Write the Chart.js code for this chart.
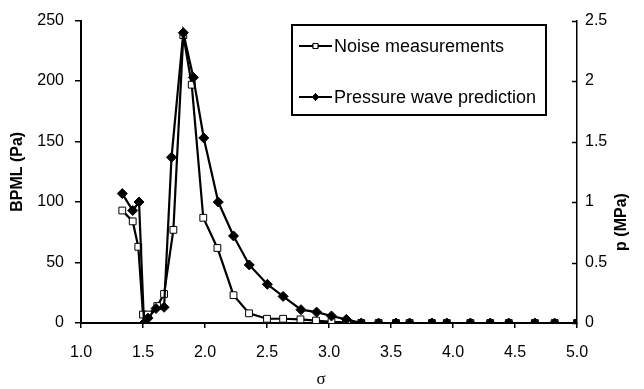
<!DOCTYPE html>
<html>
<head>
<meta charset="utf-8">
<script src="https://cdn.jsdelivr.net/npm/chart.js@4.4.1/dist/chart.umd.min.js"></script>
<style>
  html, body { margin: 0; padding: 0; background: #fff; }
  #wrap { width: 644px; height: 389px; }
</style>
</head>
<body>
<div id="wrap"><canvas id="chart"></canvas></div>
<script>
// Noise measurements (left axis, Pa)
const sigmaNoise = [1.333, 1.417, 1.462, 1.50, 1.54, 1.615, 1.67, 1.745, 1.825, 1.893, 1.986, 2.10, 2.23, 2.355, 2.50, 2.63, 2.77, 2.895, 3.02, 3.145, 3.26, 3.40, 3.54, 3.65, 3.83, 3.95, 4.14, 4.30, 4.45, 4.66, 4.82, 5.0];
const bpml = [93, 84, 63, 7, 7, 14, 24, 77, 238, 197, 87, 62, 23, 8, 3.5, 3.5, 3, 2, 1, 0.5, 0, 0, 0, 0, 0, 0, 0, 0, 0, 0, 0, 0];

// Pressure wave prediction (right axis, MPa)
const sigmaPressure = [1.333, 1.417, 1.468, 1.508, 1.54, 1.605, 1.67, 1.73, 1.825, 1.906, 1.99, 2.107, 2.23, 2.357, 2.503, 2.63, 2.774, 2.9, 3.02, 3.14, 3.26, 3.40, 3.54, 3.65, 3.83, 3.95, 4.14, 4.30, 4.45, 4.66, 4.82, 5.0];
const pressure = [1.07, 0.93, 1.0, 0, 0.04, 0.12, 0.13, 1.37, 2.40, 2.03, 1.53, 1.0, 0.72, 0.48, 0.32, 0.22, 0.11, 0.09, 0.058, 0.03, 0, 0, 0, 0, 0, 0, 0, 0, 0, 0, 0, 0];

const legendLabels = ["Noise measurements", "Pressure wave prediction"];
const xTitle = "σ";
const yTitle = "BPML (Pa)";
const y2Title = "p (MPa)";

const FONT = "'Liberation Sans', Arial, sans-serif";

function toPoints(xs, ys) {
  return xs.map((x, i) => ({ x: x, y: ys[i] }));
}

// extra drawing: inner ticks on right axis, titles, boxed legend
const extrasPlugin = {
  id: "extras",
  afterDraw(chart) {
    const ctx = chart.ctx;
    const area = chart.chartArea;
    const y2 = chart.scales.y2;

    ctx.save();
    ctx.strokeStyle = "#000";
    ctx.lineWidth = 1.5;
    y2.ticks.forEach((t) => {
      const py = Math.round(y2.getPixelForValue(t.value)) + 0.5;
      ctx.beginPath();
      ctx.moveTo(area.right - 5, py);
      ctx.lineTo(area.right, py);
      ctx.stroke();
    });

    // right axis title, reading bottom to top
    ctx.fillStyle = "#000";
    ctx.font = "bold 16px " + FONT;
    ctx.textAlign = "center";
    ctx.textBaseline = "middle";
    ctx.translate(622, 222);
    ctx.rotate(-Math.PI / 2);
    ctx.fillText(y2Title, 0, 0);
    ctx.restore();

    // x title
    ctx.save();
    ctx.fillStyle = "#000";
    ctx.font = "17px 'Liberation Serif', 'Times New Roman', serif";
    ctx.textAlign = "center";
    ctx.textBaseline = "middle";
    ctx.fillText(xTitle, 321, 380);
    ctx.restore();

    // legend box
    ctx.save();
    ctx.fillStyle = "#fff";
    ctx.fillRect(292, 25, 254, 90);
    ctx.strokeStyle = "#000";
    ctx.lineWidth = 2;
    ctx.strokeRect(292, 25, 254, 90);

    const rows = [46, 97];
    chart.data.datasets.forEach((ds) => {
      const row = ds.legendRow;
      const ly = rows[row];
      ctx.strokeStyle = "#000";
      ctx.lineWidth = 2;
      ctx.beginPath();
      ctx.moveTo(299, ly);
      ctx.lineTo(332, ly);
      ctx.stroke();
      ctx.lineWidth = 1;
      Chart.helpers.drawPoint(ctx, {
        pointStyle: ds.pointStyle,
        radius: 3.5,
        borderWidth: 1
      }, 315.5, ly);
      ctx.fillStyle = ds.pointBackgroundColor;
      ctx.fill();
      ctx.stroke();
      ctx.fillStyle = "#000";
      ctx.font = "18px " + FONT;
      ctx.textAlign = "left";
      ctx.textBaseline = "middle";
      ctx.fillText(legendLabels[row], 334, ly + 1);
    });
    ctx.restore();
  }
};

const ctx = document.getElementById("chart");
const chart = new Chart(ctx, {
  type: "line",
  data: {
    datasets: [
      {
        label: legendLabels[1],
        legendRow: 1,
        data: toPoints(sigmaPressure, pressure),
        yAxisID: "y2",
        borderColor: "#000",
        borderWidth: 2.2,
        pointStyle: "rectRot",
        pointRadius: 5,
        pointBorderWidth: 1,
        pointBackgroundColor: "#000",
        pointBorderColor: "#000",
        tension: 0
      },
      {
        label: legendLabels[0],
        legendRow: 0,
        data: toPoints(sigmaNoise, bpml),
        yAxisID: "y",
        borderColor: "#000",
        borderWidth: 2.2,
        pointStyle: "rect",
        pointRadius: 4.8,
        pointBorderWidth: 1,
        pointBackgroundColor: "#fff",
        pointBorderColor: "#000",
        tension: 0
      }
    ]
  },
  options: {
    responsive: true,
    maintainAspectRatio: false,
    animation: false,
    devicePixelRatio: 1,
    layout: { padding: { top: 18, left: 0, right: 0, bottom: 0 } },
    plugins: {
      legend: { display: false },
      tooltip: { enabled: false }
    },
    scales: {
      x: {
        type: "linear",
        min: 1,
        max: 5,
        ticks: {
          stepSize: 0.5,
          color: "#000",
          font: { family: FONT, size: 16 },
          padding: 15,
          callback: (v) => v.toFixed(1)
        },
        grid: { drawOnChartArea: false, tickLength: 5, color: "#000", lineWidth: 1.5 },
        border: { color: "#000", width: 2 },
        afterFit: (s) => { s.height = 66; }
      },
      y: {
        position: "left",
        min: 0,
        max: 250,
        ticks: {
          stepSize: 50,
          color: "#000",
          font: { family: FONT, size: 16 },
          padding: 11
        },
        grid: { drawOnChartArea: false, tickLength: 6, color: "#000", lineWidth: 1.5 },
        border: { color: "#000", width: 2 },
        title: {
          display: true,
          text: yTitle,
          color: "#000",
          font: { family: FONT, size: 16, weight: "bold" },
          padding: { top: 8, bottom: 0 }
        },
        afterFit: (s) => { s.width = 81; }
      },
      y2: {
        position: "right",
        min: 0,
        max: 2.5,
        ticks: {
          stepSize: 0.5,
          color: "#000",
          font: { family: FONT, size: 16 },
          padding: 8,
          callback: (v) => String(+v.toFixed(1))
        },
        grid: { display: false, drawOnChartArea: false, tickLength: 0 },
        border: { display: true, color: "#000", width: 1.5 },
        afterFit: (s) => { s.width = 67; }
      }
    }
  },
  plugins: [extrasPlugin]
});
</script>
</body>
</html>
